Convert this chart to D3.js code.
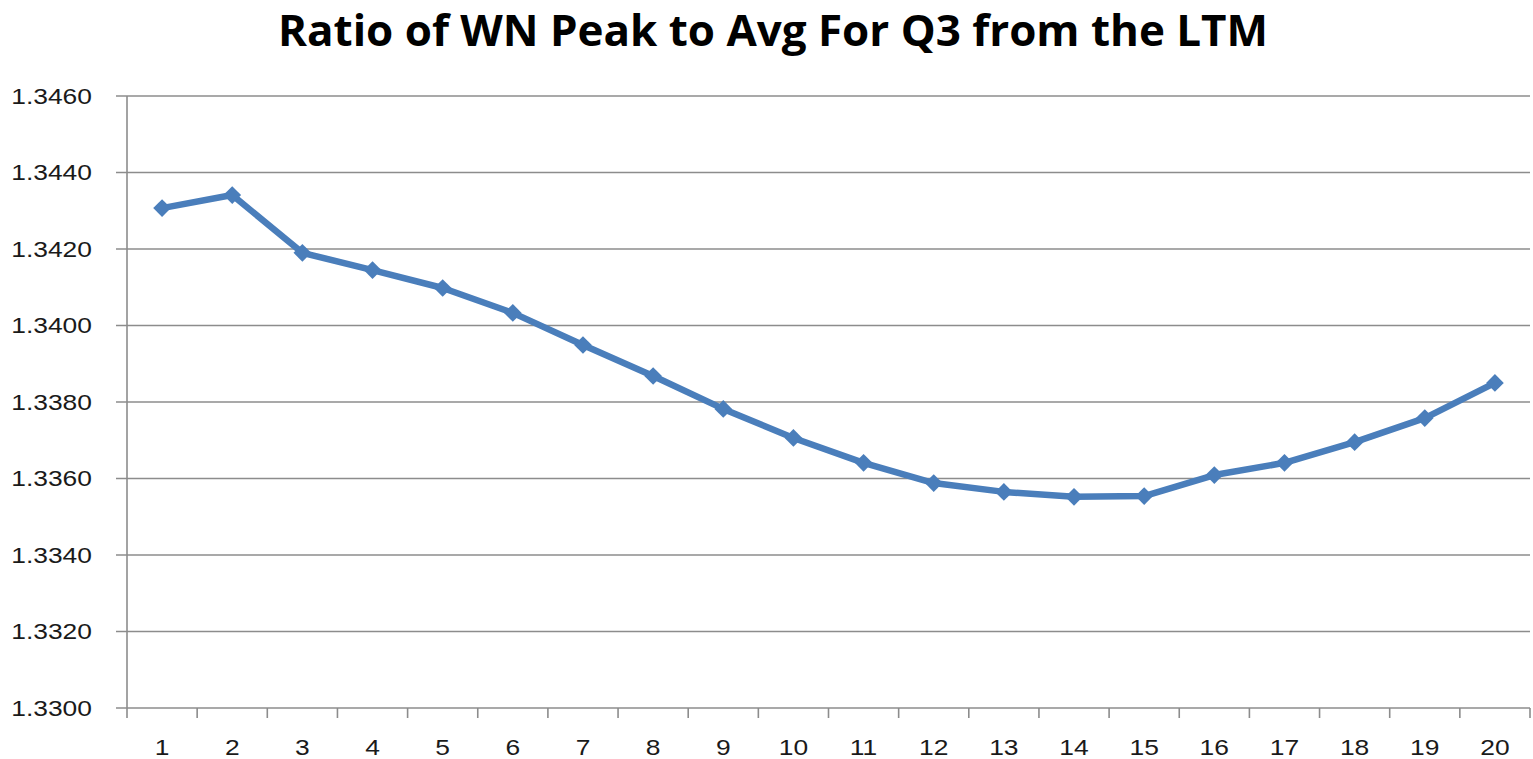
<!DOCTYPE html>
<html>
<head>
<meta charset="utf-8">
<script src="https://cdn.jsdelivr.net/npm/d3@7"></script>
<style>
  body { margin: 0; background: #fff; }
  svg { display: block; }
</style>
</head>
<body>
<div class="js-chart"></div>
<script>
var title = 'Ratio of WN Peak to Avg For Q3 from the LTM';
var categories = ['1','2','3','4','5','6','7','8','9','10','11','12','13','14','15','16','17','18','19','20'];
var ratios = [1.34307, 1.34341, 1.34190, 1.34145, 1.34098, 1.34033, 1.33949, 1.33868, 1.33782, 1.33706,
  1.33641, 1.33588, 1.33565, 1.33552, 1.33554, 1.33609, 1.33641, 1.33695, 1.33758, 1.33850];
var yTicks = [1.3300, 1.3320, 1.3340, 1.3360, 1.3380, 1.3400, 1.3420, 1.3440, 1.3460];

var width = 1533, height = 759;
var plotLeft = 127, plotRight = 1530, plotTop = 96, plotBottom = 708;
var blue = '#4a7ebb', grid = '#8c8c8c';

var svg = d3.select('.js-chart')
  .append('svg')
  .attr('width', width)
  .attr('height', height);

var x = d3.scaleBand().domain(categories).range([plotLeft, plotRight]);
var y = d3.scaleLinear().domain([1.33, 1.346]).range([plotBottom, plotTop]);

// stretch text a bit wider, the original is horizontally scaled
function widen(sel, k) {
  sel.each(function() {
    var w = this.getComputedTextLength();
    d3.select(this).attr('textLength', w * k).attr('lengthAdjust', 'spacingAndGlyphs');
  });
}

// title
svg.append('text')
  .attr('x', 773)
  .attr('y', 46)
  .attr('text-anchor', 'middle')
  .style('font-family', '"Open Sans", sans-serif')
  .style('font-weight', 'bold')
  .style('font-size', '43px')
  .attr('fill', '#000')
  .text(title)
  .attr('textLength', 990)
  .attr('lengthAdjust', 'spacingAndGlyphs');

// gridlines
svg.selectAll('.grid')
  .data(yTicks)
  .enter()
  .append('line')
  .classed('grid', true)
  .attr('x1', plotLeft - 11)
  .attr('x2', plotRight)
  .attr('y1', function(d) { return y(d); })
  .attr('y2', function(d) { return y(d); })
  .attr('stroke', grid)
  .attr('stroke-width', 1.6);

// y axis labels
svg.selectAll('.ylabel')
  .data(yTicks)
  .enter()
  .append('text')
  .classed('ylabel', true)
  .attr('x', 92)
  .attr('y', function(d) { return y(d); })
  .attr('dy', '0.36em')
  .attr('text-anchor', 'end')
  .style('font-family', '"Liberation Sans", Arial, sans-serif')
  .style('font-size', '22px')
  .attr('fill', '#1a1a1a')
  .text(function(d) { return d.toFixed(4); })
  .call(widen, 1.2);

// y axis line
svg.append('line')
  .attr('x1', plotLeft).attr('x2', plotLeft)
  .attr('y1', plotTop).attr('y2', plotBottom + 10)
  .attr('stroke', grid)
  .attr('stroke-width', 1.6);

// x tick marks between categories
var xTickPos = categories.map(function(c) { return x(c) + x.bandwidth(); });
svg.selectAll('.xtick')
  .data(xTickPos)
  .enter()
  .append('line')
  .classed('xtick', true)
  .attr('x1', function(d) { return d; })
  .attr('x2', function(d) { return d; })
  .attr('y1', plotBottom)
  .attr('y2', plotBottom + 10)
  .attr('stroke', grid)
  .attr('stroke-width', 1.6);

// x labels
svg.selectAll('.xlabel')
  .data(categories)
  .enter()
  .append('text')
  .classed('xlabel', true)
  .attr('x', function(d) { return x(d) + x.bandwidth() / 2; })
  .attr('y', 747)
  .attr('dy', '0.36em')
  .attr('text-anchor', 'middle')
  .style('font-family', '"Liberation Sans", Arial, sans-serif')
  .style('font-size', '22px')
  .attr('fill', '#1a1a1a')
  .text(function(d) { return d; })
  .call(widen, 1.2);

// series line
var line = d3.line()
  .x(function(d, i) { return x(categories[i]) + x.bandwidth() / 2; })
  .y(function(d) { return y(d); });

svg.append('path')
  .datum(ratios)
  .attr('d', line)
  .attr('fill', 'none')
  .attr('stroke', blue)
  .attr('stroke-width', 6.5)
  .attr('stroke-linejoin', 'round');

// diamond markers
svg.selectAll('.marker')
  .data(ratios)
  .enter()
  .append('path')
  .classed('marker', true)
  .attr('d', d3.symbol().type(d3.symbolDiamond2).size(200))
  .attr('transform', function(d, i) {
    return 'translate(' + (x(categories[i]) + x.bandwidth() / 2) + ',' + y(d) + ')';
  })
  .attr('fill', blue);
</script>
</body>
</html>
